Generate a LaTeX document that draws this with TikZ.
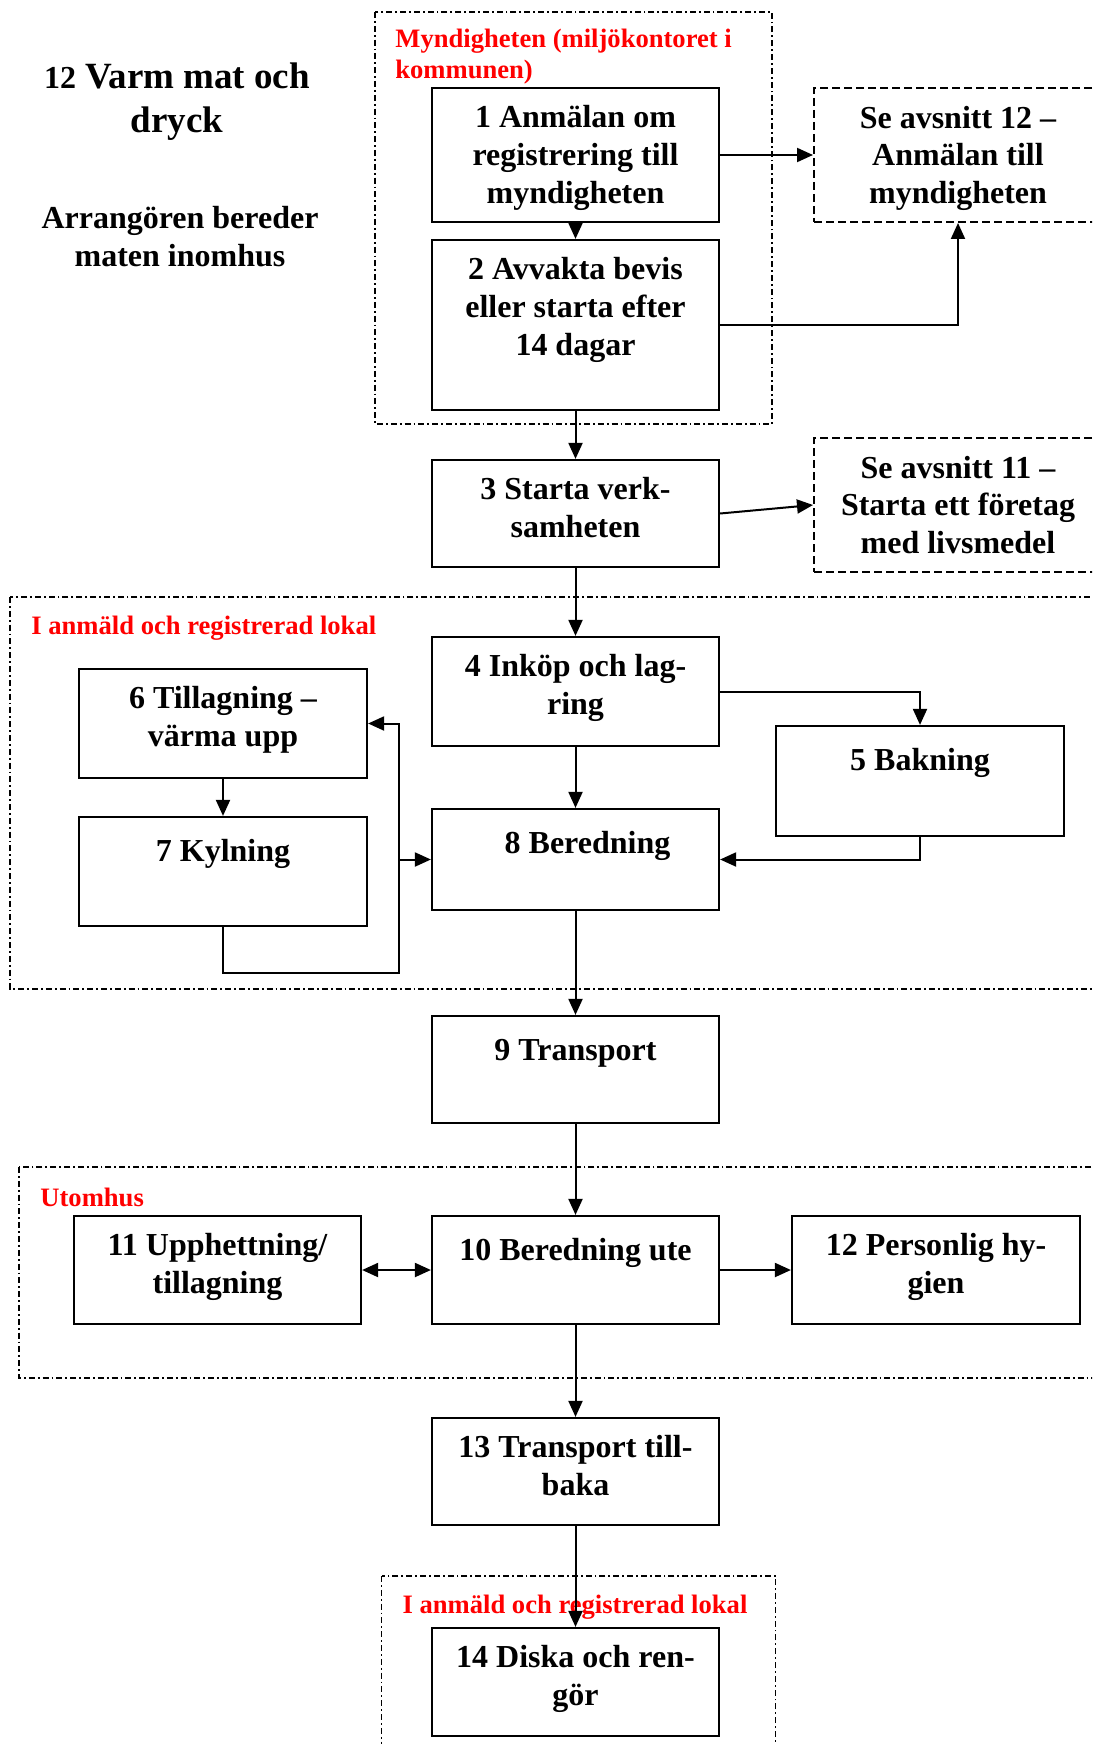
\documentclass[tikz,border=0pt]{standalone}
\usepackage{fontspec}
\setmainfont{Liberation Serif}
\usetikzlibrary{arrows.meta}
\newcommand{\bxfont}{\fontsize{16pt}{18.8pt}\selectfont\bfseries}
\newcommand{\redfont}{\fontsize{13.3pt}{15.5pt}\selectfont\bfseries}
\begin{document}
\begin{tikzpicture}[x=0.5pt,y=-0.5pt,
  box/.style={draw, line width=1.1pt, inner sep=0pt, minimum width=143.5pt},
  dbox/.style={draw, line width=1pt, dash pattern=on 4pt off 2pt, inner sep=0pt, minimum width=144pt},
  btext/.style={anchor=north, inner sep=0pt, align=center, font=\bxfont, execute at begin node=\strut},
  region/.style={draw, line width=0.8pt, dash pattern=on 3pt off 1.5pt on 0.9pt off 1.5pt},
  redlbl/.style={text=red, font=\redfont, inner sep=0pt},
  conn/.style={line width=1pt, -{Triangle[length=8pt,width=7pt]}},
  dconn/.style={line width=1pt, {Triangle[length=8pt,width=7pt]}-{Triangle[length=8pt,width=7pt]}},
]
\useasboundingbox (0,0) rectangle (1092,1744);
\clip (0,0) rectangle (1092,1744);

% regions
\draw[region] (375,12) rectangle (772,424);
\draw[region] (10,597) rectangle (1110,989);
\draw[region] (19,1167) rectangle (1110,1378);
\draw[region] (381.5,1576) rectangle (775.5,1770);

% title texts
\node[anchor=north, inner sep=0pt, align=center, font=\fontsize{18.5pt}{22pt}\selectfont\bfseries, execute at begin node=\strut] (title) at (177,62.4) {{\fontsize{16pt}{22pt}\selectfont 12} Varm mat och\\dryck};
\node[anchor=north, inner sep=0pt, align=center, font=\fontsize{16pt}{19pt}\selectfont\bfseries, execute at begin node=\strut] (sub) at (180,205.9) {Arrangören bereder\\maten inomhus};

% red labels
\node[redlbl, anchor=north west, align=left, execute at begin node=\strut] (lblA) at (395,28.8) {Myndigheten (miljökontoret i\\kommunen)};
\node[redlbl, anchor=base west] (lblB) at (31,634) {I anmäld och registrerad lokal};
\node[redlbl, anchor=base west] (lblC) at (40,1206) {Utomhus};
\node[redlbl, anchor=base] (lblD) at (575,1613.5) {I anmäld och registrerad lokal};

% boxes
\node[box, minimum height=67pt] (b1) at (575.5,155) {};
\node[box, minimum height=85pt] (b2) at (575.5,325) {};
\node[box, minimum height=53.5pt] (b3) at (575.5,513.5) {};
\node[dbox, minimum height=67pt] (s12) at (958,155) {};
\node[dbox, minimum height=67pt] (s11) at (958,505) {};
\node[box, minimum height=54.5pt] (b4) at (575.5,691.5) {};
\node[box, minimum width=144pt, minimum height=55pt] (b5) at (920,781) {};
\node[box, minimum width=144pt, minimum height=54.5pt] (b6) at (223,723.5) {};
\node[box, minimum width=144pt, minimum height=54.5pt] (b7) at (223,871.5) {};
\node[box, minimum height=50.5pt] (b8) at (575.5,859.5) {};
\node[box, minimum height=53.5pt] (b9) at (575.5,1069.5) {};
\node[box, minimum height=54pt] (b11) at (217.5,1270) {};
\node[box, minimum height=54pt] (b10) at (575.5,1270) {};
\node[box, minimum width=144pt, minimum height=54pt] (b12) at (936,1270) {};
\node[box, minimum height=53.5pt] (b13) at (575.5,1471.5) {};
\node[box, minimum height=54pt] (b14) at (575.5,1682) {};

% box texts
\node[btext] (t1) at ([yshift=-9.2pt]b1.north) {1 Anmälan om\\registrering till\\myndigheten};
\node[btext] (t2) at ([yshift=-9.2pt]b2.north) {2 Avvakta bevis\\eller starta efter\\14 dagar};
\node[btext] (t3) at ([yshift=-9.2pt]b3.north) {3 Starta verk-\\samheten};
\node[btext] (ts12) at ([yshift=-9.2pt]s12.north) {Se avsnitt 12 –\\Anmälan till\\myndigheten};
\node[btext] (ts11) at ([yshift=-9.2pt]s11.north) {Se avsnitt 11 –\\Starta ett företag\\med livsmedel};
\node[btext] (t4) at ([yshift=-9.2pt]b4.north) {4 Inköp och lag-\\ring};
\node[btext] (t5) at ([yshift=-9.2pt]b5.north) {5 Bakning};
\node[btext] (t6) at ([yshift=-9.2pt]b6.north) {6 Tillagning –\\värma upp};
\node[btext] (t7) at ([yshift=-9.2pt]b7.north) {7 Kylning};
\node[btext] (t8) at ([yshift=-9.2pt,xshift=6pt]b8.north) {8 Beredning};
\node[btext] (t9) at ([yshift=-9.2pt]b9.north) {9 Transport};
\node[btext] (t10) at ([yshift=-9.2pt]b10.north) {10 Beredning ute};
\node[btext] (t11) at ([yshift=-9.2pt]b11.north) {11 Upphettning/\\tillagning};
\node[btext] (t12) at ([yshift=-9.2pt]b12.north) {12 Personlig hy-\\gien};
\node[btext] (t13) at ([yshift=-9.2pt]b13.north) {13 Transport till-\\baka};
\node[btext] (t14) at ([yshift=-9.2pt]b14.north) {14 Diska och ren-\\gör};

% connectors
\draw[conn] (b1) -- (b2);
\draw[conn] (b1.east) -- (s12.west);
\draw[conn] (b2.east) -| (s12.south);
\draw[conn] (b2) -- (b3);
\draw[conn] (b3.east) -- (s11.west);
\draw[conn] (b3) -- (b4);
\draw[conn] (b4.east) -| (b5.north);
\draw[conn] (b4) -- (b8);
\draw[conn] (b5.south) |- (b8.east);
\draw[conn] (b6) -- (b7);
\coordinate (j1) at (399,973);
\draw[conn] (b7.south) |- (j1) |- (b6.east);
\draw[conn] (j1 |- b8.west) -- (b8.west);
\draw[conn] (b8) -- (b9);
\draw[conn] (b9) -- (b10);
\draw[dconn] (b11) -- (b10);
\draw[conn] (b10) -- (b12);
\draw[conn] (b10) -- (b13);
\draw[conn] (b13) -- (b14);
\end{tikzpicture}
\end{document}
